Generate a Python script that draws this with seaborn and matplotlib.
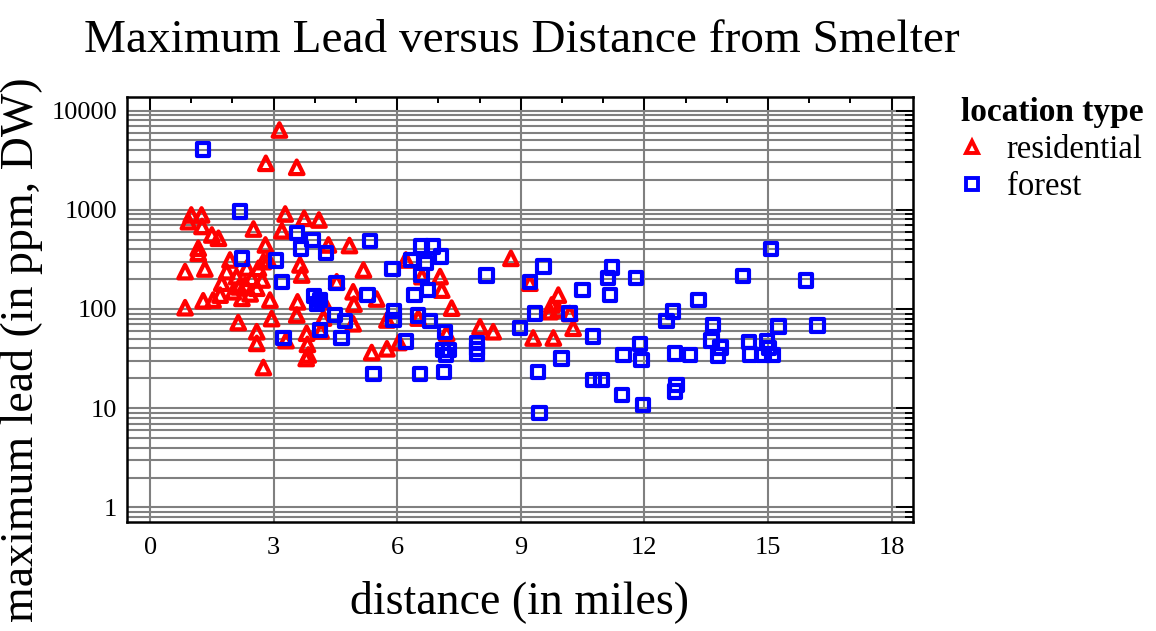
import matplotlib
matplotlib.use("Agg")
import matplotlib.pyplot as plt
import seaborn as sns
import pandas as pd
from matplotlib.lines import Line2D
from matplotlib.ticker import FixedLocator, NullFormatter, LogLocator

# ---------------- data ----------------
residential_x = [3.14, 2.81, 3.56, 1.00, 1.25, 0.93, 1.26, 1.50, 1.66, 2.51, 1.17, 1.17,
                 3.28, 3.74, 4.10, 3.20, 2.80, 4.33, 4.84, 0.85, 1.33, 1.94, 1.86, 1.74,
                 1.70, 2.10, 2.02, 2.31, 2.23, 2.47, 2.63, 2.75, 2.59, 2.87, 2.91, 3.64,
                 3.68, 5.18, 4.53, 4.93, 5.50, 6.21, 0.85, 1.29, 2.14, 2.59, 2.59, 2.95,
                 2.75, 3.58, 3.56, 3.80, 3.82, 3.84, 3.79, 3.30, 4.15, 4.93, 4.95, 4.21,
                 4.21, 5.38, 5.75, 6.04, 5.75, 6.60, 7.04, 7.08, 7.32, 6.51, 7.20, 8.01,
                 8.33, 8.76, 9.22, 9.91, 9.75, 9.71, 9.91, 10.19, 10.27, 9.30, 9.79,
                 2.35, 2.72, 2.16, 2.43, 1.53]
residential_y = [6370, 2940, 2680, 887, 887, 759, 679, 557, 516, 640, 409, 364,
                 907, 820, 789, 614, 442, 442, 436, 238, 253, 312, 238, 182,
                 138, 212, 149, 175, 128, 204, 257, 300, 162, 312, 123, 278,
                 220, 247, 188, 149, 126, 312, 103, 121, 73, 59, 45, 80,
                 25.7, 118, 87, 57, 44, 34.4, 31.7, 48, 60, 71, 112, 118,
                 81, 36.4, 39.7, 45.9, 77.5, 212, 212, 155, 102, 81, 57, 66,
                 59, 324, 182, 138, 110, 94, 98, 90, 64, 51, 51,
                 259, 196, 167, 142, 123]

forest_x = [1.29, 2.18, 2.23, 3.05, 3.20, 3.56, 3.66, 3.94, 4.27, 3.98, 4.13, 4.05,
            4.13, 3.24, 5.34, 5.89, 5.28, 6.42, 6.75, 6.59, 6.86, 7.06, 6.70, 6.35,
            6.59, 4.53, 5.92, 5.91, 4.49, 4.73, 4.65, 6.51, 6.80, 7.16, 6.21, 5.42,
            6.55, 7.14, 7.11, 7.26, 7.18, 7.94, 7.94, 7.94, 8.17, 8.98, 9.55, 9.22,
            10.50, 11.17, 11.21, 11.12, 11.80, 13.31, 9.34, 10.18, 10.75, 9.99, 9.42,
            10.76, 10.96, 11.49, 11.89, 11.93, 11.45, 11.97, 9.45, 12.70, 12.54, 12.74,
            13.11, 12.78, 12.74, 13.67, 13.63, 13.85, 13.79, 15.07, 14.40, 15.92,
            14.54, 14.56, 14.97, 15.02, 15.11, 14.89, 15.26, 16.20]
forest_y = [4070, 957, 324, 307, 186, 580, 409, 496, 367, 135, 123, 112,
            61.4, 50.7, 485, 253, 138, 138, 155, 425, 425, 337, 291, 312,
            220, 182, 95.5, 77.5, 87, 75.7, 50.7, 85.6, 75.7, 59.0, 46.8, 22.0,
            22.0, 23.3, 38.6, 38.6, 34.4, 45.4, 39.5, 35.2, 217, 64.3, 267, 186,
            155, 138, 261, 204, 204, 123, 90.5, 90.5, 52.6, 31.8, 23.3,
            19.2, 19.2, 34.4, 44.4, 30.6, 13.6, 10.8, 8.9, 94, 75.7, 35.7,
            34.4, 17.1, 14.7, 69, 48.1, 40.9, 34.0, 404, 215, 194,
            46.5, 34.9, 46.8, 40.5, 34.4, 34.4, 66.3, 68.2]

x_ticks = [0, 3, 6, 9, 12, 15, 18]
y_ticks = [1, 10, 100, 1000, 10000]
y_tick_labels = ["1", "10", "100", "1000", "10000"]
group_names = ["residential", "forest"]
group_colors = ["#ff0000", "#0000ff"]
group_markers = ["^", "s"]

# ---------------- figure ----------------
sns.set_style("white")
plt.rcParams["font.family"] = ["Liberation Serif", "DejaVu Serif"]
plt.rcParams["text.color"] = "black"
plt.rcParams["xtick.color"] = "black"
plt.rcParams["ytick.color"] = "black"
plt.rcParams["axes.labelcolor"] = "black"

fig = plt.figure(figsize=(11.56, 6.31), dpi=100)
ax = fig.add_axes([127 / 1156, 1 - 522 / 631, 786 / 1156, 425 / 631])

df_res = pd.DataFrame({"distance": residential_x, "lead": residential_y})
df_for = pd.DataFrame({"distance": forest_x, "lead": forest_y})

for df, col, mk, sz in [(df_res, group_colors[0], group_markers[0], 95),
                        (df_for, group_colors[1], group_markers[1], 80)]:
    n_before = len(ax.collections)
    sns.scatterplot(data=df, x="distance", y="lead", ax=ax, marker=mk,
                    color=col, s=sz, legend=False, zorder=3)
    for coll in ax.collections[n_before:]:
        coll.set_facecolor("none")
        coll.set_edgecolor(col)
        coll.set_linewidth(3.0)

ax.set_yscale("log")
ax.set_xlim(-0.56, 18.52)
ax.set_ylim(0.713, 13700)

ax.set_xticks(x_ticks)
ax.set_xticklabels([str(t) for t in x_ticks])
ax.xaxis.set_minor_locator(FixedLocator(list(range(0, 19))))
ax.set_yticks(y_ticks)
ax.set_yticklabels(y_tick_labels)
ax.yaxis.set_minor_locator(LogLocator(base=10, subs=[2, 3, 4, 5, 6, 7, 8, 9], numticks=20))
ax.yaxis.set_minor_formatter(NullFormatter())

ax.grid(True, which="major", axis="x", color="#808080", linewidth=1.5)
ax.grid(True, which="both", axis="y", color="#808080", linewidth=1.5)
ax.set_axisbelow(True)

ax.tick_params(axis="both", which="both", direction="in", top=True, right=True,
               color="black", width=1.4, labelsize=19, labelcolor="black")
ax.tick_params(axis="x", which="major", length=9, pad=11)
ax.tick_params(axis="x", which="minor", length=4)
ax.tick_params(axis="y", which="major", length=12, pad=7)
ax.tick_params(axis="y", which="minor", length=6)

for sp in ax.spines.values():
    sp.set_color("black")
    sp.set_linewidth(1.8)

ax.set_xlabel("")
ax.set_ylabel("")

fig.text(522 / 1156, 1 - 52 / 631, "Maximum Lead versus Distance from Smelter",
         fontsize=34, ha="center", va="baseline", color="black")
fig.text(520 / 1156, 1 - 613 / 631, "distance (in miles)",
         fontsize=33, ha="center", va="baseline", color="black")
fig.text(22 / 1156, 1 - 350 / 631, "maximum lead (in ppm, DW)",
         fontsize=33, ha="center", va="center", rotation=90, color="black")

handles = [Line2D([], [], linestyle="none", marker=m, markersize=8,
                  markerfacecolor="none", markeredgecolor=c, markeredgewidth=2.8)
           for m, c in zip(group_markers, group_colors)]
leg = fig.legend(handles, group_names, title="location type",
                 loc="upper left", bbox_to_anchor=(961 / 1156, 1 - 97 / 631),
                 frameon=False, fontsize=23.5,
                 title_fontproperties={"weight": "bold", "size": 24},
                 alignment="left", handlelength=0.7, handletextpad=0.7,
                 labelspacing=0.2, borderaxespad=0, borderpad=0)
for t in leg.get_texts():
    t.set_color("black")
leg.get_title().set_color("black")

fig.savefig("out.png", dpi=100)
